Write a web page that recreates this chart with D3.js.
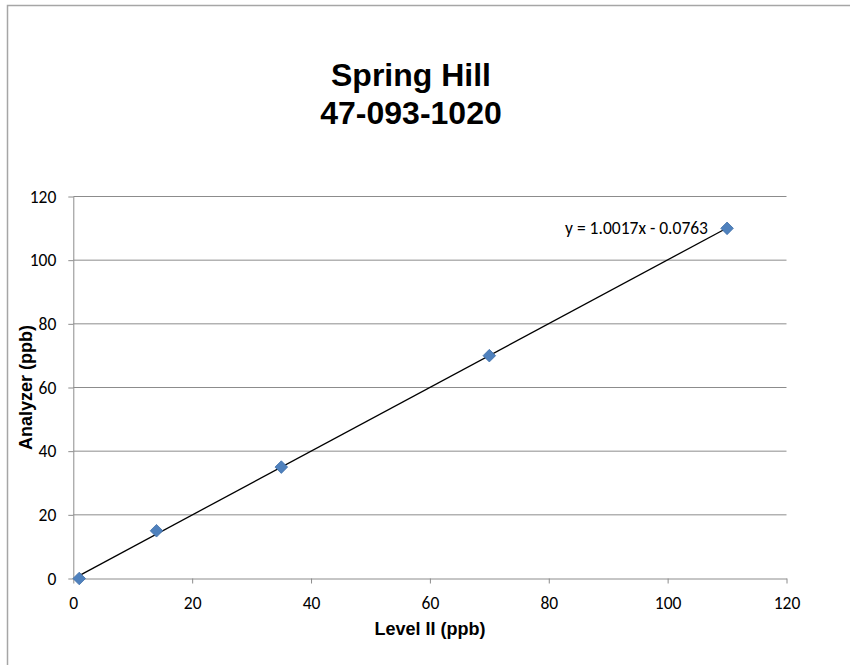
<!DOCTYPE html>
<meta charset="utf-8">
<head>
	<title>Spring Hill 47-093-1020</title>
	<script type="text/javascript" src="https://d3js.org/d3.v7.min.js"></script>
	<style>
		body { margin: 0; background: #fff; }
		.tick text { font-family: Carlito, Calibri, Lato, sans-serif; font-size: 17.5px; fill: #000; }
		.title, .axis-title { font-family: "Liberation Sans", Arial, sans-serif; font-weight: bold; fill: #000; }
	</style>
</head>
<body>
	<div id="chart"></div>
	<script>
		// chart values
		var levelII = [1, 14, 35, 70, 110];
		var analyzer = [0, 15, 35, 70, 110];
		var xTicks = [0, 20, 40, 60, 80, 100, 120];
		var yTicks = [0, 20, 40, 60, 80, 100, 120];
		var titleLines = ["Spring Hill", "47-093-1020"];
		// linear trendline from the fit label
		var slope = 1.0017;
		var intercept = -0.0763;

		var w = 850, h = 665;
		var margin = {left: 73.3, right: 850 - 786.5, top: 196.5, bottom: 665 - 578.5};

		var svg = d3.select("#chart").append("svg")
			.attr("width", w).attr("height", h);

		// outer frame (only left/top visible)
		svg.append("rect")
			.attr("x", 7.5).attr("y", 5.5)
			.attr("width", w).attr("height", h)
			.style("fill", "none").style("stroke", "#a6a6a6").style("stroke-width", 1.5);

		var x = d3.scaleLinear().domain([0, 120]).range([margin.left, w - margin.right]);
		var y = d3.scaleLinear().domain([0, 120]).range([h - margin.bottom, margin.top]);

		// gridlines
		svg.append("g").selectAll("line")
			.data(yTicks.filter(function (d) { return d > 0; }))
			.enter().append("line")
			.attr("x1", x(0)).attr("x2", x(120))
			.attr("y1", function (d) { return y(d); })
			.attr("y2", function (d) { return y(d); })
			.style("stroke", "#8c8c8c").style("stroke-width", 1);

		// axes
		var xAxis = d3.axisBottom(x).tickValues(xTicks).tickSize(5).tickPadding(13).tickSizeOuter(0);
		var yAxis = d3.axisLeft(y).tickValues(yTicks).tickSize(5).tickPadding(12).tickSizeOuter(0);

		var gX = svg.append("g").attr("transform", "translate(0," + y(0) + ")").call(xAxis);
		var gY = svg.append("g").attr("transform", "translate(" + x(0) + ",0)").call(yAxis);
		[gX, gY].forEach(function (g) {
			g.selectAll("path, line").style("stroke", "#8c8c8c").style("stroke-width", 1);
		});

		// trendline across data range
		var xMin = d3.min(levelII), xMax = d3.max(levelII);
		svg.append("line")
			.attr("x1", x(xMin)).attr("y1", y(slope * xMin + intercept))
			.attr("x2", x(xMax)).attr("y2", y(slope * xMax + intercept))
			.style("stroke", "#000").style("stroke-width", 1.3);

		// diamond markers
		var pts = levelII.map(function (d, i) { return [d, analyzer[i]]; });
		svg.append("g").selectAll("path")
			.data(pts).enter().append("path")
			.attr("transform", function (d) { return "translate(" + x(d[0]) + "," + y(d[1]) + ")"; })
			.attr("d", "M0,-6.3L6.3,0L0,6.3L-6.3,0Z")
			.style("fill", "#4f81bd").style("stroke", "#3f6fa8").style("stroke-width", 0.8);

		// trendline label
		svg.append("text")
			.attr("x", 708).attr("y", 233.5)
			.attr("text-anchor", "end")
			.style("font-family", "Carlito, Calibri, Lato, sans-serif")
			.style("font-size", "17.5px")
			.text("y = " + slope.toFixed(4) + "x - " + Math.abs(intercept).toFixed(4));

		// title
		svg.append("text").attr("class", "title")
			.attr("text-anchor", "middle")
			.style("font-size", "32px")
			.selectAll("tspan").data(titleLines).enter().append("tspan")
			.attr("x", 411)
			.attr("y", function (d, i) { return 86 + i * 38; })
			.text(function (d) { return d; });

		// axis titles
		svg.append("text").attr("class", "axis-title")
			.attr("x", (x(0) + x(120)) / 2).attr("y", 635)
			.attr("text-anchor", "middle").style("font-size", "18px")
			.text("Level II (ppb)");

		svg.append("text").attr("class", "axis-title")
			.attr("transform", "translate(32," + (y(0) + y(120)) / 2 + ") rotate(-90)")
			.attr("text-anchor", "middle").style("font-size", "18px")
			.text("Analyzer (ppb)");
	</script>
</body>
</html>
